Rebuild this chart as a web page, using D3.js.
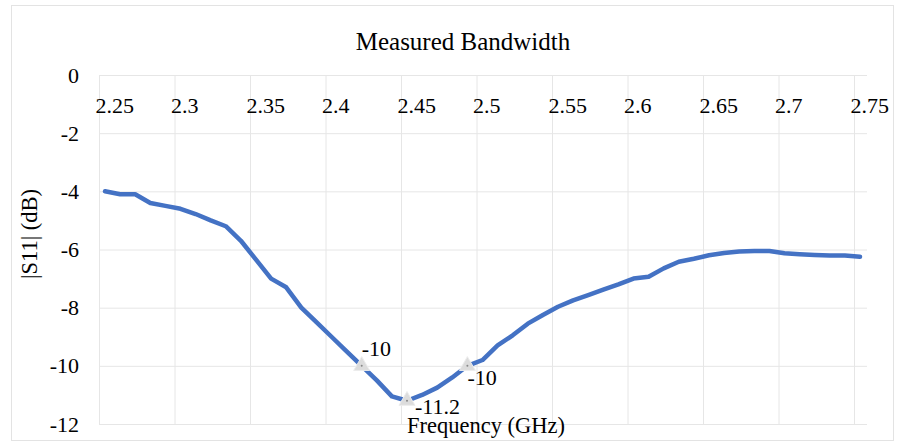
<!DOCTYPE html>
<html>
<head>
<meta charset="utf-8">
<script src="https://cdn.jsdelivr.net/npm/d3@7"></script>
<style>
  html, body { margin: 0; padding: 0; background: #fff; }
  svg { display: block; font-family: "Liberation Serif", "Times New Roman", serif; }
</style>
</head>
<body>
<svg id="chart" width="908" height="443"></svg>
<script>
// Measured |S11| versus frequency
const frequencies = [
  2.25, 2.26, 2.27, 2.28, 2.29, 2.30, 2.31, 2.32, 2.33, 2.34,
  2.35, 2.36, 2.37, 2.38, 2.39, 2.40, 2.41, 2.42, 2.43, 2.44,
  2.45, 2.46, 2.47, 2.48, 2.49, 2.50, 2.51, 2.52, 2.53, 2.54,
  2.55, 2.56, 2.57, 2.58, 2.59, 2.60, 2.61, 2.62, 2.63, 2.64,
  2.65, 2.66, 2.67, 2.68, 2.69, 2.70, 2.71, 2.72, 2.73, 2.74, 2.75
];
const s11 = [
  -4.0, -4.1, -4.1, -4.4, -4.5, -4.6, -4.78, -5.0, -5.2, -5.7,
  -6.35, -7.0, -7.3, -8.0, -8.5, -9.0, -9.5, -10.0, -10.5, -11.05,
  -11.2, -11.0, -10.75, -10.4, -10.0, -9.8, -9.3, -8.95, -8.55, -8.25,
  -7.97, -7.75, -7.57, -7.38, -7.2, -7.0, -6.94, -6.65, -6.42, -6.32,
  -6.2, -6.12, -6.07, -6.05, -6.05, -6.13, -6.16, -6.19, -6.21, -6.21, -6.25
];
// Band-edge and resonance points that carry value labels
const markedFreqs = [2.42, 2.45, 2.49];
const markedLabels = ["-10", "-11.2", "-10"];

const xTicks = [2.25, 2.30, 2.35, 2.40, 2.45, 2.50, 2.55, 2.60, 2.65, 2.70, 2.75];
const xTickLabels = ["2.25", "2.3", "2.35", "2.4", "2.45", "2.5", "2.55", "2.6", "2.65", "2.7", "2.75"];
const yTicks = [0, -2, -4, -6, -8, -10, -12];
const yTickLabels = ["0", "-2", "-4", "-6", "-8", "-10", "-12"];

const svg = d3.select("#chart");

// chart frame
svg.append("rect")
  .attr("x", 11.5).attr("y", 5.5).attr("width", 882).attr("height", 435)
  .attr("fill", "#fff").attr("stroke", "#e3e3e3").attr("stroke-width", 1);

const plotLeft = 99, plotRight = 867, plotTop = 75, plotBottom = 424;

const x = d3.scaleLinear().domain([2.25, 2.75]).range([105, 860]);
const y = d3.scaleLinear().domain([0, -12]).range([plotTop, plotBottom]);

// horizontal grid
svg.append("g")
  .attr("transform", `translate(${plotLeft},0)`)
  .call(d3.axisRight(y).tickValues(yTicks).tickSize(plotRight - plotLeft).tickFormat(""))
  .call(g => g.select(".domain").remove())
  .call(g => g.selectAll("line").attr("stroke", "#e6e6e6").attr("stroke-width", 1));

// vertical grid
svg.append("g")
  .attr("transform", `translate(-6,${plotTop})`)
  .call(d3.axisBottom(x).tickValues(xTicks).tickSize(plotBottom - plotTop).tickFormat(""))
  .call(g => g.select(".domain").remove())
  .call(g => g.selectAll("line").attr("stroke", "#e6e6e6").attr("stroke-width", 1));

// y axis labels
svg.append("g")
  .attr("transform", `translate(${plotLeft},0)`)
  .call(d3.axisLeft(y).tickValues(yTicks).tickSize(0).tickPadding(20)
    .tickFormat((d, i) => yTickLabels[i]))
  .call(g => g.select(".domain").remove())
  .call(g => g.selectAll("text")
    .attr("font-family", "Liberation Serif, Times New Roman, serif")
    .attr("font-size", 22).attr("fill", "#000"));

// x axis labels along the 0 dB line
svg.append("g")
  .attr("transform", `translate(-6,${plotTop})`)
  .call(d3.axisBottom(x).tickValues(xTicks).tickSize(0)
    .tickFormat((d, i) => xTickLabels[i]))
  .call(g => g.select(".domain").remove())
  .call(g => g.selectAll("text")
    .attr("font-family", "Liberation Serif, Times New Roman, serif")
    .attr("font-size", 22).attr("fill", "#000")
    .attr("text-anchor", "start")
    .attr("x", -4).attr("y", 38).attr("dy", null));

// measured curve
const pts = frequencies.map((f, i) => [f, s11[i]]);
svg.append("path")
  .datum(pts)
  .attr("fill", "none")
  .attr("stroke", "#4472C4")
  .attr("stroke-width", 4.5)
  .attr("stroke-linejoin", "round")
  .attr("stroke-linecap", "round")
  .attr("d", d3.line().x(d => x(d[0])).y(d => y(d[1])));

// markers with value labels
const marks = markedFreqs.map((f, i) => ({ f, v: s11[frequencies.indexOf(f)], label: markedLabels[i] }));
const labelOffsets = [[0, -10], [8, 13], [0, 19]];

const mg = svg.append("g").selectAll("g").data(marks).join("g")
  .attr("transform", d => `translate(${x(d.f)},${y(d.v)})`);
mg.append("path")
  .attr("d", d3.symbol(d3.symbolTriangle, 110))
  .attr("fill", "#dcdcdc").attr("stroke", "#ececec").attr("stroke-width", 1);
mg.append("circle").attr("r", 1).attr("fill", "#888");
mg.append("text")
  .attr("x", (d, i) => labelOffsets[i][0])
  .attr("y", (d, i) => labelOffsets[i][1])
  .attr("font-size", 22).attr("fill", "#000")
  .text(d => d.label);

// titles
svg.append("text")
  .attr("x", 463).attr("y", 50).attr("text-anchor", "middle")
  .attr("font-size", 25).attr("fill", "#000")
  .text("Measured Bandwidth");

svg.append("text")
  .attr("x", 486).attr("y", 433).attr("text-anchor", "middle")
  .attr("font-size", 22.5).attr("fill", "#000")
  .text("Frequency (GHz)");

svg.append("text")
  .attr("transform", "translate(37,234) rotate(-90)")
  .attr("text-anchor", "middle")
  .attr("font-size", 22.5).attr("fill", "#000")
  .text("|S11| (dB)");
</script>
</body>
</html>
